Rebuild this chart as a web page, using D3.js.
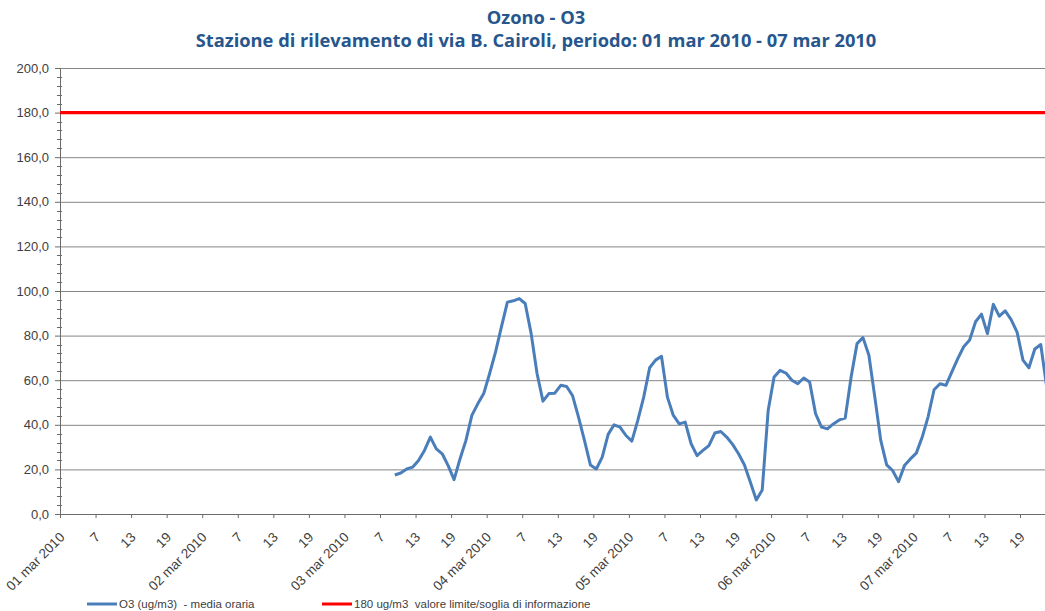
<!DOCTYPE html>
<html><head><meta charset="utf-8">
<script src="https://cdn.jsdelivr.net/npm/d3@7"></script>
<style>body{margin:0;background:#fff} svg{display:block}</style>
</head><body><svg id="chart" width="1045" height="611"></svg>
<script>
// ---------- data ----------
const titleLines = ["Ozono - O3", "Stazione di rilevamento di via B. Cairoli, periodo: 01 mar 2010 - 07 mar 2010"];
const days = ["01 mar 2010", "02 mar 2010", "03 mar 2010", "04 mar 2010", "05 mar 2010", "06 mar 2010", "07 mar 2010"];
const hoursPerDay = 24;
const labelEvery = 6;
const yTicks = [0, 20, 40, 60, 80, 100, 120, 140, 160, 180, 200];
const yMinorStep = 4;
const thresholdValue = 180;
const seriesNames = ["O3 (ug/m3)  - media oraria", "180 ug/m3  valore limite/soglia di informazione"];
// hourly O3 means (ug/m3), one per hour from 01 mar h1 to 07 mar h24; null = no data
const o3 = [
  null, null, null, null, null, null, null, null, null, null, null, null,
  null, null, null, null, null, null, null, null, null, null, null, null,
  null, null, null, null, null, null, null, null, null, null, null, null,
  null, null, null, null, null, null, null, null, null, null, null, null,
  null, null, null, null, null, null, null, null,
  17.5, 18.4, 20.2, 21.0, 24.0, 28.5, 34.5, 29.2, 27.0, 21.7, 15.4, 24.7,
  33.0, 44.2, 49.4, 54.0, 63.0, 72.7, 84.0, 95.0, 95.6, 96.6, 94.4, 81.0,
  63.0, 50.6, 54.0, 54.2, 57.7, 57.2, 53.0, 43.4, 33.0, 22.0, 20.2, 25.5,
  35.7, 40.0, 39.0, 35.2, 32.7, 42.0, 52.4, 65.6, 69.0, 70.7, 52.4, 44.2,
  40.4, 41.2, 31.5, 26.2, 28.5, 30.7, 36.3, 37.0, 34.5, 31.2, 27.0, 22.0,
  14.2, 6.3, 10.8, 46.4, 61.4, 64.4, 63.2, 60.0, 58.4, 61.0, 59.2, 45.0,
  39.0, 38.2, 40.4, 42.2, 43.0, 61.4, 76.4, 79.1, 71.2, 52.4, 33.0, 22.0,
  19.5, 14.5, 21.7, 24.7, 27.3, 34.5, 43.7, 55.7, 58.4, 57.7, 63.7, 69.7,
  75.0, 78.0, 86.2, 89.6, 80.9, 94.0, 88.7, 91.1, 87.2, 81.6, 69.0, 65.6,
  74.0, 76.0, 57.0, null
];

// category labels: the date at hour 1, then hour numbers
const categories = [];
days.forEach(d => { for (let h = 1; h <= hoursPerDay; h++) categories.push(h === 1 ? d : String(h)); });

// ---------- layout ----------
const svg = d3.select("#chart");
const mLeft = 60, mTop = 68, mBottom = 514;
const nCat = categories.length;
const mRight = mLeft + nCat * 5.926;
const font = "'Liberation Sans', Arial, sans-serif";
const textColor = "#404040";

const x = d3.scaleLinear().domain([0, nCat]).range([mLeft, mRight]);
const y = d3.scaleLinear().domain([0, 200]).range([mBottom, mTop]);

// title
svg.append("g").selectAll("text").data(titleLines).join("text")
  .attr("x", 536).attr("y", (d, i) => 24 + i * 23)
  .attr("text-anchor", "middle")
  .attr("font-family", "'Open Sans', Lato, sans-serif")
  .attr("font-weight", "bold")
  .attr("font-size", 18.3)
  .attr("fill", "#26568c")
  .text(d => d);

// gridlines
svg.append("g").attr("transform", `translate(${mLeft},0)`)
  .call(d3.axisLeft(y).tickValues(yTicks.filter(v => v > 0)).tickSize(-(mRight - mLeft)).tickFormat(""))
  .call(g => g.select(".domain").remove())
  .call(g => g.selectAll("line").attr("stroke", "#858585").attr("stroke-width", 1));

// minor ticks
const minorVals = d3.range(0, 200 + 0.001, yMinorStep).filter(v => !yTicks.includes(v));
svg.append("g").selectAll("line").data(minorVals).join("line")
  .attr("x1", mLeft - 3).attr("x2", mLeft + 2)
  .attr("y1", d => Math.round(y(d)) + 0.5).attr("y2", d => Math.round(y(d)) + 0.5)
  .attr("stroke", "#6b6b6b").attr("stroke-width", 1);

// y axis
svg.append("g").attr("transform", `translate(${mLeft},0)`)
  .call(d3.axisLeft(y).tickValues(yTicks).tickSize(5).tickSizeOuter(0).tickPadding(6)
    .tickFormat(d => d3.format(".1f")(d).replace(".", ",")))
  .call(g => g.select(".domain").attr("stroke", "#6b6b6b"))
  .call(g => g.selectAll("line").attr("stroke", "#6b6b6b"))
  .call(g => g.selectAll("text").attr("font-family", font).attr("font-size", 13).attr("fill", textColor));

// x axis: tick marks at category boundaries every 6 hours
const boundaries = d3.range(0, nCat + 1, labelEvery);
svg.append("g").attr("transform", `translate(0,${mBottom})`)
  .call(d3.axisBottom(x).tickValues(boundaries).tickSize(4).tickSizeOuter(0).tickFormat(""))
  .call(g => g.select(".domain").attr("stroke", "#6b6b6b"))
  .call(g => g.selectAll("line").attr("stroke", "#6b6b6b"));

// x labels at category centres
const labelIdx = d3.range(0, nCat, labelEvery);
svg.append("g").attr("transform", `translate(0,${mBottom})`)
  .call(d3.axisBottom(x).tickValues(labelIdx.map(i => i + 0.5)).tickSize(0).tickFormat(d => categories[d - 0.5]))
  .call(g => g.select(".domain").remove())
  .call(g => g.selectAll("text")
    .attr("font-family", font).attr("font-size", 13.5).attr("fill", textColor)
    .attr("text-anchor", "end").attr("dy", 0).attr("y", 0)
    .attr("transform", "translate(2,24) rotate(-45)"));

// threshold line
svg.append("line")
  .attr("x1", x(0)).attr("x2", x(nCat))
  .attr("y1", y(thresholdValue)).attr("y2", y(thresholdValue))
  .attr("stroke", "#ff0000").attr("stroke-width", 3.2);

// O3 line
const line = d3.line().defined(d => d != null).x((d, i) => x(i + 0.5)).y(d => y(d));
svg.append("path").datum(o3)
  .attr("d", line).attr("fill", "none")
  .attr("stroke", "#4a7ebb").attr("stroke-width", 3).attr("stroke-linejoin", "round");

// legend
const legend = [
  {name: seriesNames[0], color: "#4a7ebb", x0: 87},
  {name: seriesNames[1], color: "#ff0000", x0: 322}
];
const lg = svg.append("g").selectAll("g").data(legend).join("g");
lg.append("line").attr("x1", d => d.x0).attr("x2", d => d.x0 + 30)
  .attr("y1", 604).attr("y2", 604).attr("stroke", d => d.color).attr("stroke-width", 3);
lg.append("text").attr("x", d => d.x0 + 32).attr("y", 608)
  .attr("xml:space", "preserve").style("white-space", "pre")
  .attr("font-family", font).attr("font-size", 11.5).attr("fill", textColor)
  .text(d => d.name);
</script></body></html>
